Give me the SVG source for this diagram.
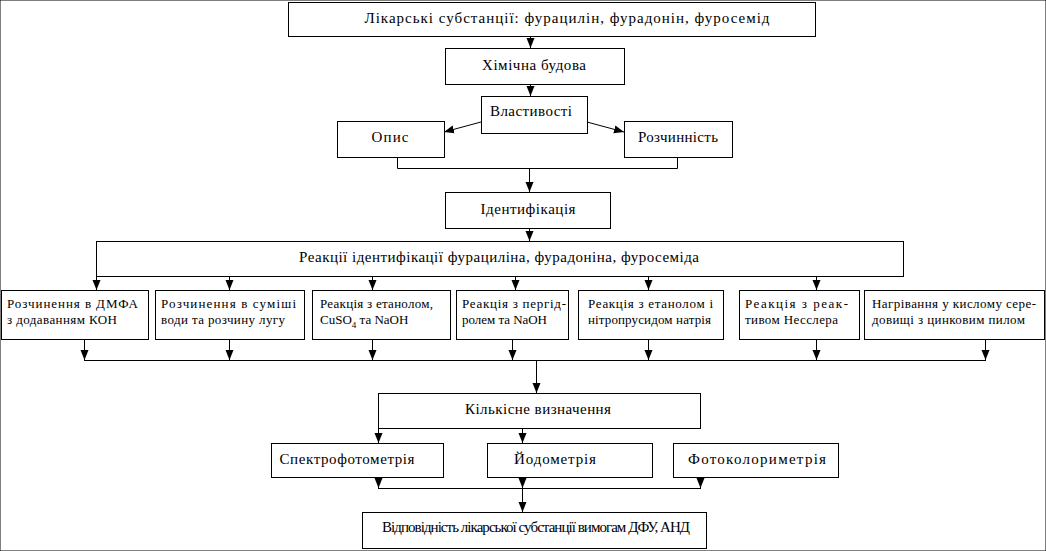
<svg xmlns="http://www.w3.org/2000/svg" width="1046" height="551" viewBox="0 0 1046 551">
<style>
rect{fill:#fff;stroke:#000;stroke-width:1}
.b{font-size:15px;text-anchor:middle}
.s{font-size:13px}
.c{fill:none;stroke:#000;stroke-width:1}
</style>
<defs>
<marker id="ah" markerUnits="userSpaceOnUse" markerWidth="10" markerHeight="10" viewBox="0 0 10 10" refX="10" refY="5" orient="auto">
<path d="M0,1 L10,5 L0,9 Z" fill="#000"/>
</marker>
</defs>
<rect width="1046" height="551" fill="#fff" stroke="none"/>
<g id="connectors" class="c">
<path d="M530.5,36 V48" marker-end="url(#ah)"/>
<path d="M530.5,85 V96" marker-end="url(#ah)"/>
<path d="M481,122 L444,132" marker-end="url(#ah)"/>
<path d="M587,122 L624,132" marker-end="url(#ah)"/>
<path d="M397.5,157 V168.5 H677.5 V157"/>
<path d="M529.5,168 V192" marker-end="url(#ah)"/>
<path d="M529.5,229 V241" marker-end="url(#ah)"/>
<path d="M96.5,276 V290" marker-end="url(#ah)"/>
<path d="M229.5,276 V290" marker-end="url(#ah)"/>
<path d="M372.5,276 V290" marker-end="url(#ah)"/>
<path d="M515.5,276 V290" marker-end="url(#ah)"/>
<path d="M648.5,276 V290" marker-end="url(#ah)"/>
<path d="M816.5,276 V290" marker-end="url(#ah)"/>
<path d="M84.5,339 V360" marker-end="url(#ah)"/>
<path d="M229.5,339 V360" marker-end="url(#ah)"/>
<path d="M372.5,339 V360" marker-end="url(#ah)"/>
<path d="M512.5,339 V360" marker-end="url(#ah)"/>
<path d="M648.5,339 V360" marker-end="url(#ah)"/>
<path d="M816.5,339 V360" marker-end="url(#ah)"/>
<path d="M985.5,339 V360" marker-end="url(#ah)"/>
<path d="M84,360.5 H986"/>
<path d="M536.5,360 V393" marker-end="url(#ah)"/>
<path d="M378.5,428 V443" marker-end="url(#ah)"/>
<path d="M522.5,428 V443" marker-end="url(#ah)"/>
<path d="M378.5,477 V488" marker-end="url(#ah)"/>
<path d="M522.5,477 V488" marker-end="url(#ah)"/>
<path d="M700.5,477 V488" marker-end="url(#ah)"/>
<path d="M378,488.5 H701"/>
<path d="M522.5,488 V512" marker-end="url(#ah)"/>
</g>
<g font-family="Liberation Serif" fill="#000">
<g id="n-top"><rect x="288.5" y="2.5" width="527" height="34"/><text class="b" x="567" y="23" textLength="405" lengthAdjust="spacing">Лікарські субстанції: фурацилін, фурадонін, фуросемід</text></g>
<g id="n-chem"><rect x="445.5" y="48.5" width="179" height="36"/><text class="b" x="534" y="70" textLength="104" lengthAdjust="spacing">Хімічна будова</text></g>
<g id="n-prop"><rect x="481.5" y="96.5" width="106" height="37"/><text class="b" x="531" y="116" textLength="82" lengthAdjust="spacing">Властивості</text></g>
<g id="n-opys"><rect x="337.5" y="121.5" width="107" height="36"/><text class="b" x="390" y="142" textLength="37" lengthAdjust="spacing">Опис</text></g>
<g id="n-rozch"><rect x="624.5" y="121.5" width="108" height="36"/><text class="b" x="678" y="142" textLength="80" lengthAdjust="spacing">Розчинність</text></g>
<g id="n-ident"><rect x="445.5" y="192.5" width="165" height="36"/><text class="b" x="528" y="214" textLength="95" lengthAdjust="spacing">Ідентифікація</text></g>
<g id="n-react"><rect x="96.5" y="241.5" width="807" height="35"/><text class="b" x="499" y="262" textLength="400" lengthAdjust="spacing">Реакції ідентифікації фурациліна, фурадоніна, фуросеміда</text></g>
<g id="n-r1"><rect x="1.5" y="290.5" width="147" height="49"/><text class="s" x="7" y="308" textLength="131" lengthAdjust="spacing">Розчинення в ДМФА</text><text class="s" x="7" y="324" textLength="110" lengthAdjust="spacing">з додаванням КОН</text></g>
<g id="n-r2"><rect x="155.5" y="290.5" width="149" height="49"/><text class="s" x="161" y="308" textLength="135" lengthAdjust="spacing">Розчинення в суміші</text><text class="s" x="161" y="324" textLength="124" lengthAdjust="spacing">води та розчину лугу</text></g>
<g id="n-r3"><rect x="312.5" y="290.5" width="138" height="49"/><text class="s" x="320" y="308" textLength="113" lengthAdjust="spacing">Реакція з етанолом,</text><text class="s" x="320" y="324">CuSO<tspan font-size="9" dy="4">4</tspan><tspan dy="-4"> та NaOH</tspan></text></g>
<g id="n-r4"><rect x="456.5" y="290.5" width="112" height="49"/><text class="s" x="462" y="308" textLength="104" lengthAdjust="spacing">Реакція з пергід-</text><text class="s" x="462" y="324" textLength="85" lengthAdjust="spacing">ролем та NaOH</text></g>
<g id="n-r5"><rect x="578.5" y="290.5" width="145" height="49"/><text class="s" x="588" y="308" textLength="125" lengthAdjust="spacing">Реакція з етанолом і</text><text class="s" x="588" y="324" textLength="123" lengthAdjust="spacing">нітропрусидом натрія</text></g>
<g id="n-r6"><rect x="739.5" y="290.5" width="120" height="49"/><text class="s" x="745" y="308" textLength="103" lengthAdjust="spacing">Реакція з реак-</text><text class="s" x="745" y="324" textLength="93" lengthAdjust="spacing">тивом Несслера</text></g>
<g id="n-r7"><rect x="864.5" y="290.5" width="180" height="49"/><text class="s" x="872" y="308" textLength="164" lengthAdjust="spacing">Нагрівання у кислому сере-</text><text class="s" x="872" y="324" textLength="153" lengthAdjust="spacing">довищі з цинковим пилом</text></g>
<g id="n-kilk"><rect x="378.5" y="393.5" width="322" height="35"/><text class="b" x="538" y="414" textLength="146" lengthAdjust="spacing">Кількісне визначення</text></g>
<g id="n-spec"><rect x="271.5" y="443.5" width="172" height="34"/><text class="b" x="347" y="464" textLength="135" lengthAdjust="spacing">Спектрофотометрія</text></g>
<g id="n-iod"><rect x="487.5" y="443.5" width="165" height="34"/><text class="b" x="555" y="464" textLength="82" lengthAdjust="spacing">Йодометрія</text></g>
<g id="n-foto"><rect x="673.5" y="443.5" width="165" height="34"/><text class="b" x="757" y="464" textLength="138" lengthAdjust="spacing">Фотоколориметрія</text></g>
<g id="n-vidp"><rect x="362.5" y="512.5" width="344" height="36"/><text class="b" x="536" y="532" font-size="12" textLength="308" lengthAdjust="spacing">Відповідність лікарської субстанції вимогам ДФУ, АНД</text></g>
</g>
</svg>
